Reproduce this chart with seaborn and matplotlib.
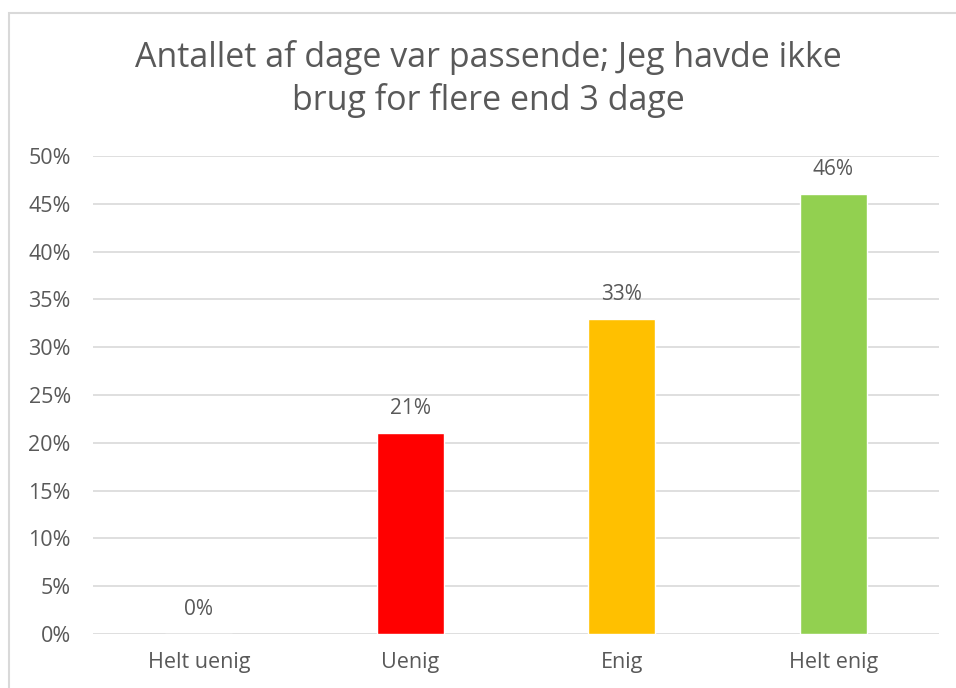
import pandas as pd
import seaborn as sns
import matplotlib.pyplot as plt
from matplotlib.patches import Rectangle
from matplotlib.ticker import PercentFormatter

# data
categories = ["Helt uenig", "Uenig", "Enig", "Helt enig"]
shares = [0.00, 0.21, 0.33, 0.46]
bar_colors = ["#A5A5A5", "#FF0000", "#FFC000", "#92D050"]

df = pd.DataFrame({"svar": categories, "andel": shares})

sns.set_style("white")
plt.rcParams["font.family"] = ["Open Sans", "DejaVu Sans"]
text_color = "#595959"

fig = plt.figure(figsize=(9.56, 6.88), dpi=100)
ax = fig.add_axes([93 / 956, 1 - 634 / 688, (939 - 93) / 956, (634 - 156) / 688])

sns.barplot(data=df, x="svar", y="andel", hue="svar", palette=bar_colors,
            order=categories, hue_order=categories, width=0.317,
            saturation=1, legend=False, ax=ax, zorder=3)

for cont in ax.containers:
    ax.bar_label(cont, labels=[f"{v * 100:.0f}%" for v in cont.datavalues],
                 padding=10, fontsize=15, color=text_color)

ax.set_ylim(0, 0.5)
ax.set_xlim(-0.5, 3.5)
ax.set_yticks([i * 0.05 for i in range(11)])
ax.yaxis.set_major_formatter(PercentFormatter(1.0, decimals=0))
ax.grid(axis="y", color="#D9D9D9", linewidth=1.2, zorder=0)
ax.set_axisbelow(True)
for s in ax.spines.values():
    s.set_visible(False)
ax.tick_params(axis="both", length=0, labelsize=15.5, colors=text_color)
ax.tick_params(axis="y", pad=16)
ax.tick_params(axis="x", pad=13)
ax.set_xlabel("")
ax.set_ylabel("")

fig.text(488 / 956, 1 - 79 / 688,
         "Antallet af dage var passende; Jeg havde ikke\nbrug for flere end 3 dage",
         ha="center", va="center", fontsize=24.5, color=text_color, linespacing=1.3)

# chart border
fig.patches.append(Rectangle((8.5 / 956, -0.1), 1.2, 1 - 12.5 / 688 + 0.1,
                             transform=fig.transFigure, fill=False,
                             edgecolor="#D9D9D9", linewidth=1.5))

fig.savefig("out.png", dpi=100)
